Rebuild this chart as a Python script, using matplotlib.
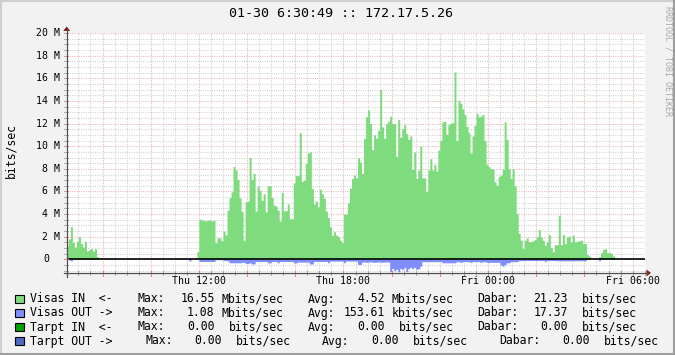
import matplotlib
matplotlib.use("Agg")
import matplotlib.pyplot as plt
import numpy as np
from matplotlib.patches import Rectangle, Polygon
from matplotlib.lines import Line2D

plt.rcParams['font.family'] = ['DejaVu Sans Mono', 'DejaVu Sans']

# ---------------- data (Mbit/s, 5-minute steps starting Thu 06:30) ----------------
IN_MBPS = [
    1.2, 1.8, 2.9, 1.5, 1.1, 1.6, 2.0, 1.4, 1.1, 1.6,
    0.75, 0.85, 0.95, 0.75, 0.95, 0.25, 0.0, 0.0, 0.0, 0.0,
    0.0, 0.0, 0.0, 0.0, 0.0, 0.0, 0.0, 0.0, 0.0, 0.0,
    0.0, 0.0, 0.0, 0.0, 0.0, 0.0, 0.0, 0.0, 0.0, 0.0,
    0.0, 0.0, 0.0, 0.0, 0.0, 0.0, 0.0, 0.0, 0.0, 0.0,
    0.0, 0.0, 0.0, 0.0, 0.0, 0.0, 0.0, 0.0, 0.0, 0.0,
    0.0, 0.15, 0.0, 0.0, 0.0, 0.7, 3.56, 3.47, 3.47, 3.4,
    3.47, 3.47, 3.4, 3.47, 1.47, 1.9, 1.9, 1.65, 2.5, 2.15,
    4.35, 5.44, 5.97, 8.2, 7.9, 7.06, 5.44, 4.26, 1.7, 5.1,
    5.15, 9.0, 7.06, 7.6, 4.26, 6.47, 6.1, 5.2, 5.8, 4.2,
    6.5, 6.5, 5.47, 4.8, 4.7, 4.35, 3.4, 5.9, 4.3, 4.3,
    4.9, 3.6, 3.6, 6.76, 7.4, 7.4, 11.2, 6.9, 7.0, 8.5,
    9.4, 9.5, 6.26, 4.9, 5.15, 4.65, 6.2, 5.8, 5.4, 4.26,
    3.7, 2.9, 2.15, 2.44, 2.15, 2.0, 1.7, 1.47, 4.0, 4.0,
    5.0, 6.3, 7.15, 7.44, 7.2, 8.97, 8.6, 7.6, 10.7, 12.6,
    13.2, 12.0, 9.7, 11.0, 10.7, 11.4, 15.0, 11.7, 10.7, 12.0,
    12.2, 12.65, 12.0, 12.0, 9.1, 12.35, 10.8, 11.56, 11.9, 11.1,
    10.6, 10.9, 7.94, 9.5, 7.15, 7.9, 10.0, 7.2, 7.2, 6.0,
    7.9, 8.9, 7.9, 8.4, 7.8, 9.65, 10.5, 12.15, 12.2, 11.05,
    11.9, 12.06, 12.06, 16.55, 10.5, 14.06, 13.8, 13.3, 12.8, 11.76,
    11.2, 9.4, 10.9, 11.85, 12.9, 12.6, 12.65, 12.8, 10.5, 8.4,
    8.2, 8.0, 8.0, 6.85, 6.56, 7.3, 7.44, 7.94, 12.15, 10.6,
    8.0, 7.15, 8.0, 6.5, 4.06, 2.3, 1.7, 0.97, 1.7, 1.9,
    1.56, 1.56, 1.65, 1.76, 2.0, 2.65, 2.0, 1.7, 1.26, 1.56,
    2.2, 1.06, 0.68, 1.3, 1.3, 3.9, 1.3, 2.2, 1.4, 2.0,
    2.06, 1.56, 2.15, 1.56, 1.6, 1.65, 1.7, 1.4, 1.4, 0.44,
    0.3, 0.0, 0.0, 0.0, 0.0, 0.24, 0.6, 0.9, 0.94, 0.6,
    0.6, 0.53, 0.3, 0.0, 0.0, 0.0, 0.0, 0.0, 0.0, 0.0,
    0.0, 0.0, 0.0, 0.0, 0.0, 0.0, 0.0, 0.0,
]

OUT_MBPS = [
    0.0, 0.05, 0.12, 0.0, 0.0, 0.0, 0.0, 0.0, 0.0, 0.0,
    0.0, 0.0, 0.0, 0.0, 0.0, 0.0, 0.0, 0.0, 0.0, 0.0,
    0.0, 0.0, 0.0, 0.0, 0.0, 0.0, 0.0, 0.0, 0.0, 0.0,
    0.0, 0.0, 0.0, 0.0, 0.0, 0.0, 0.0, 0.0, 0.0, 0.0,
    0.0, 0.0, 0.0, 0.0, 0.0, 0.0, 0.0, 0.0, 0.0, 0.0,
    0.0, 0.0, 0.0, 0.0, 0.0, 0.0, 0.0, 0.0, 0.0, 0.0,
    0.0, 0.15, 0.0, 0.0, 0.0, 0.0, 0.18, 0.18, 0.18, 0.18,
    0.18, 0.18, 0.18, 0.18, 0.03, 0.03, 0.03, 0.03, 0.1, 0.1,
    0.15, 0.3, 0.3, 0.28, 0.3, 0.3, 0.3, 0.25, 0.25, 0.35,
    0.35, 0.3, 0.4, 0.4, 0.18, 0.18, 0.18, 0.18, 0.18, 0.18,
    0.3, 0.3, 0.18, 0.18, 0.18, 0.3, 0.18, 0.18, 0.18, 0.18,
    0.18, 0.18, 0.18, 0.3, 0.3, 0.24, 0.24, 0.24, 0.24, 0.24,
    0.24, 0.4, 0.4, 0.18, 0.18, 0.18, 0.18, 0.18, 0.18, 0.18,
    0.3, 0.15, 0.15, 0.15, 0.15, 0.15, 0.15, 0.15, 0.3, 0.15,
    0.15, 0.15, 0.15, 0.15, 0.15, 0.44, 0.44, 0.24, 0.22, 0.26,
    0.24, 0.2, 0.24, 0.26, 0.24, 0.22, 0.24, 0.26, 0.24, 0.22,
    0.24, 1.08, 0.8, 1.0, 0.88, 1.08, 0.8, 0.88, 0.7, 1.08,
    0.82, 0.7, 0.82, 0.7, 0.88, 0.82, 0.6, 0.2, 0.2, 0.2,
    0.2, 0.2, 0.2, 0.2, 0.2, 0.2, 0.2, 0.3, 0.3, 0.3,
    0.3, 0.3, 0.3, 0.3, 0.2, 0.2, 0.28, 0.2, 0.2, 0.2,
    0.2, 0.28, 0.2, 0.2, 0.2, 0.2, 0.28, 0.2, 0.2, 0.26,
    0.26, 0.26, 0.26, 0.26, 0.26, 0.26, 0.5, 0.6, 0.45, 0.3,
    0.3, 0.2, 0.2, 0.2, 0.2, 0.1, 0.1, 0.1, 0.1, 0.1,
    0.1, 0.1, 0.1, 0.1, 0.1, 0.1, 0.1, 0.1, 0.2, 0.1,
    0.1, 0.1, 0.1, 0.12, 0.12, 0.12, 0.12, 0.12, 0.12, 0.12,
    0.12, 0.12, 0.12, 0.12, 0.12, 0.12, 0.12, 0.12, 0.12, 0.0,
    0.0, 0.0, 0.0, 0.0, 0.0, 0.12, 0.0, 0.0, 0.0, 0.0,
    0.0, 0.0, 0.0, 0.0, 0.0, 0.0, 0.0, 0.0, 0.0, 0.0,
    0.0, 0.0, 0.0, 0.0, 0.0, 0.0, 0.0, 0.0,
]

START_HOUR = 6.5          # Thu 06:30
STEP_MIN = 5

Y_TICK_VALUES = [0, 2, 4, 6, 8, 10, 12, 14, 16, 18, 20]
Y_TICK_LABELS = ["0", "2 M", "4 M", "6 M", "8 M", "10 M", "12 M", "14 M", "16 M", "18 M", "20 M"]
X_TICK_HOURS = [12, 18, 24, 30]
X_TICK_LABELS = ["Thu 12:00", "Thu 18:00", "Fri 00:00", "Fri 06:00"]

TITLE = "01-30 6:30:49 :: 172.17.5.26"
Y_LABEL = "bits/sec"
WATERMARK = "RRDTOOL / TOBI OETIKER"

LEG_NAMES = ["Visas IN  <-", "Visas OUT ->", "Tarpt IN  <-", "Tarpt OUT ->"]
LEG_COLORS = ["#7EDB7E", "#7F8FFF", "#00A000", "#5068C8"]
MAX_VALS = ["16.55", "1.08", "0.00", "0.00"]
MAX_UNITS = ["Mbits/sec", "Mbits/sec", "bits/sec", "bits/sec"]
AVG_VALS = ["4.52", "153.61", "0.00", "0.00"]
AVG_UNITS = ["Mbits/sec", "kbits/sec", "bits/sec", "bits/sec"]
LAST_VALS = ["21.23", "17.37", "0.00", "0.00"]
LAST_UNITS = ["bits/sec", "bits/sec", "bits/sec", "bits/sec"]

# ---------------- layout ----------------
W, H = 675, 355
L, R, T, B = 66.7, 645.0, 33.0, 273.0
X0 = START_HOUR + 0.8 / 60.0
X1 = X0 + 24.0
YMIN, YMAX = -1.2, 20.0

fig = plt.figure(figsize=(W / 100, H / 100), dpi=100)
fig.patch.set_facecolor('#F2F2F2')

ax = fig.add_axes([L / W, 1 - B / H, (R - L) / W, (B - T) / H])
ax.set_facecolor('white')
ax.set_xlim(X0, X1)
ax.set_ylim(YMIN, YMAX)
for s in ax.spines.values():
    s.set_visible(False)
ax.set_xticks([])
ax.set_yticks([])


def hx(h):
    return L + (h - X0) / (X1 - X0) * (R - L)


def vy(v):
    return T + (YMAX - v) / (YMAX - YMIN) * (B - T)


# grid (dotted, rrdtool style)
minor_c = '#D2D2D2'
major_c = '#ECB4B4'
dot = (0, (1, 1.2))
hh = np.arange(7.0, 30.51, 0.5)
for h in hh:
    if abs(h / 2 - round(h / 2)) < 1e-9:
        continue
    ax.axvline(h, color=minor_c, lw=0.75, ls=dot, zorder=0.5, snap=True)
for v in np.arange(-1.0, 20.01, 0.5):
    if abs(v / 2 - round(v / 2)) < 1e-9:
        continue
    ax.axhline(v, color=minor_c, lw=0.75, ls=dot, zorder=0.5, snap=True)
for h in np.arange(8.0, 30.51, 2.0):
    ax.axvline(h, color=major_c, lw=0.75, ls=dot, zorder=0.6, snap=True)
for v in np.arange(0.0, 20.01, 2.0):
    ax.axhline(v, color=major_c, lw=0.75, ls=dot, zorder=0.6, snap=True)

# areas
n = len(IN_MBPS)
edges = START_HOUR + np.arange(n + 1) * STEP_MIN / 60.0
vin = np.append(np.array(IN_MBPS), IN_MBPS[-1])
vout = np.append(np.array(OUT_MBPS), OUT_MBPS[-1])
ax.fill_between(edges, 0, vin, step='post', color=LEG_COLORS[0], lw=0, zorder=2)
ax.fill_between(edges, -vout, 0, step='post', color=LEG_COLORS[1], lw=0, zorder=2)
ax.axhline(0, color='black', lw=1.2, zorder=3)

# ---------------- overlay in pixel coords ----------------
ov = fig.add_axes([0, 0, 1, 1])
ov.set_xlim(0, W)
ov.set_ylim(H, 0)
ov.axis('off')
ov.patch.set_alpha(0)

# frame shading
ov.add_line(Line2D([0.5, W - 0.5], [0.8, 0.8], color='#CFCFCF', lw=1.5))
ov.add_line(Line2D([0.8, 0.8], [0, H], color='#CFCFCF', lw=1.5))
ov.add_line(Line2D([0, W], [H - 0.8, H - 0.8], color='#9E9E9E', lw=1.5))
ov.add_line(Line2D([W - 0.8, W - 0.8], [0, H], color='#9E9E9E', lw=1.5))

axis_c = '#505050'
# ticks
for h in hh:
    x = hx(h)
    major = abs(h / 2 - round(h / 2)) < 1e-9
    ov.add_line(Line2D([x, x], [B - 2, B + (3 if major else 2)],
                       color=('#D89090' if major else '#A8A8A8'), lw=0.72))
for v in np.arange(-1.0, 20.01, 0.5):
    y = vy(v)
    major = abs(v / 2 - round(v / 2)) < 1e-9
    ov.add_line(Line2D([L - 3, L + 1], [y, y],
                       color=('#D89090' if major else '#B0B0B0'), lw=0.72))

# axes lines + arrows
ov.add_line(Line2D([L, L], [B + 4, T - 3], color=axis_c, lw=0.9))
ov.add_line(Line2D([L - 3, R + 2], [B, B], color=axis_c, lw=0.9))
arrow_c = '#801F1F'
ov.add_patch(Polygon([[L - 3.5, T - 2], [L + 3.5, T - 2], [L, T - 6.5]], closed=True,
                     color=arrow_c, lw=0))
ov.add_patch(Polygon([[R + 1.5, B - 3.5], [R + 1.5, B + 3.5], [R + 6, B]], closed=True,
                     color=arrow_c, lw=0))

# tick labels
for v, lab in zip(Y_TICK_VALUES, Y_TICK_LABELS):
    xr = 60.5 if lab != "0" else 49.0
    ov.text(xr, vy(v), lab, ha='right', va='center', fontsize=7.1, color='black')
for h, lab in zip(X_TICK_HOURS, X_TICK_LABELS):
    ov.text(hx(h), 281.5, lab, ha='center', va='center', fontsize=7.1, color='black')

# title, y label, watermark
ov.text(341, 13.8, TITLE, ha='center', va='center', fontsize=9.6, color='black')
ov.text(10.5, 150, Y_LABEL, ha='center', va='center', rotation=90, fontsize=8.3,
        color='black')
ov.text(668, 61, WATERMARK, ha='center', va='center', rotation=270, fontsize=6.0,
        color='#A8A8A8')

# legend
CW = 7.0
row_y = [299, 313, 327, 341]
row_anchor = [
    (138.0, 214.6, 308.0, 384.5, 477.6, 568.0),
    (138.0, 214.6, 308.0, 384.5, 477.6, 568.0),
    (138.0, 214.6, 308.0, 384.5, 477.6, 568.0),
    (145.5, 222.0, 322.2, 398.7, 499.0, 589.7),
]
fs = 8.3
for k in range(4):
    y = row_y[k]
    ov.add_patch(Rectangle((15.0, y - 4.5), 8.5, 8.5, facecolor=LEG_COLORS[k],
                           edgecolor='black', lw=0.8))
    ov.text(30.0, y, LEG_NAMES[k], ha='left', va='center', fontsize=fs)
    mx, mvr, ax_, avr, dx, dvr = row_anchor[k]
    ov.text(mx, y, "Max:", ha='left', va='center', fontsize=fs)
    ov.text(mvr, y, MAX_VALS[k], ha='right', va='center', fontsize=fs)
    u = MAX_UNITS[k]
    ov.text(mvr + (CW * 2 if u.startswith('b') else CW), y, u, ha='left', va='center', fontsize=fs)
    ov.text(ax_, y, "Avg:", ha='left', va='center', fontsize=fs)
    ov.text(avr, y, AVG_VALS[k], ha='right', va='center', fontsize=fs)
    u = AVG_UNITS[k]
    ov.text(avr + (CW * 2 if u.startswith('b') else CW), y, u, ha='left', va='center', fontsize=fs)
    ov.text(dx, y, "Dabar:", ha='left', va='center', fontsize=fs)
    ov.text(dvr, y, LAST_VALS[k], ha='right', va='center', fontsize=fs)
    u = LAST_UNITS[k]
    ov.text(dvr + (CW * 2 if u.startswith('b') else CW), y, u, ha='left', va='center', fontsize=fs)

fig.savefig('out.png', dpi=100, facecolor=fig.get_facecolor())
